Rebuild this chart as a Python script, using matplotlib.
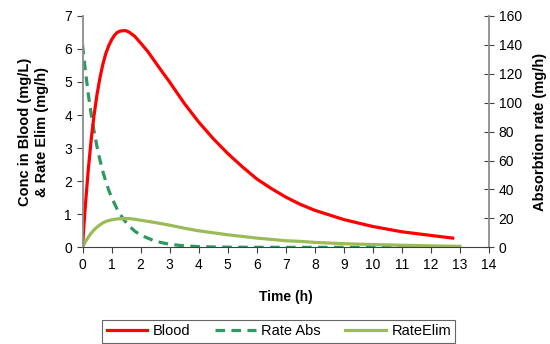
import matplotlib
matplotlib.use("Agg")
from matplotlib import pyplot as plt

plt.rcParams['font.family'] = ['Liberation Sans', 'DejaVu Sans']

# blood concentration (mg/L)
time_blood = [0, 0.05, 0.1, 0.2, 0.3, 0.4, 0.5, 0.6, 0.7, 0.8, 0.9, 1.0, 1.1, 1.2, 1.3, 1.4,
              1.5, 1.6, 1.8, 2.0, 2.25, 2.5, 2.75, 3, 3.5, 4, 4.5, 5, 5.5, 6, 6.5, 7, 7.5,
              8, 9, 10, 11, 12, 12.75]
blood = [0, 0.67, 1.28, 2.36, 3.26, 4.01, 4.62, 5.12, 5.53, 5.85, 6.09, 6.27, 6.41, 6.5, 6.54, 6.55,
         6.55, 6.51, 6.38, 6.18, 5.92, 5.61, 5.3, 5.0, 4.36, 3.79, 3.29, 2.84, 2.44, 2.07, 1.78, 1.52, 1.3,
         1.12, 0.84, 0.63, 0.47, 0.36, 0.28]

# rates (mg/h)
time_rate = [0, 0.1, 0.2, 0.3, 0.4, 0.5, 0.6, 0.7, 0.8, 0.9, 1.0, 1.2, 1.4, 1.6, 1.8, 2.0,
             2.5, 3, 3.5, 4, 4.5, 5, 5.5, 6, 6.5, 7, 7.5, 8, 9, 10, 11, 12, 13]
rate_abs = [140, 122, 105.7, 91.9, 80, 69.5, 60.4, 52.5, 45.7, 39.7, 34.5, 26.1, 19.7, 14.9, 11.2, 8.5,
            4.2, 2.1, 1.04, 0.52, 0.26, 0.13, 0.06, 0.03, 0, 0, 0, 0, 0, 0, 0, 0, 0]
rate_elim = [0, 0.17, 0.31, 0.43, 0.53, 0.61, 0.68, 0.74, 0.78, 0.81, 0.83, 0.86, 0.87, 0.87, 0.85, 0.82,
             0.75, 0.67, 0.58, 0.5, 0.44, 0.38, 0.33, 0.28, 0.24, 0.2, 0.18, 0.15, 0.11, 0.085, 0.063,
             0.045, 0.03]

fig = plt.figure(figsize=(5.5, 3.44), dpi=100)
ax = fig.add_axes([0.15, 0.281, 0.739, 0.673])
ax2 = ax.twinx()

l1, = ax.plot(time_blood, blood, color='#ff0000', lw=2.3, label='Blood')
l2, = ax2.plot(time_rate, rate_abs, color='#2e9960', lw=2.3, ls=(0, (3, 2)), label='Rate Abs')
l3, = ax.plot(time_rate, rate_elim, color='#9bbb59', lw=2.3, label='RateElim')
ax.set_zorder(ax2.get_zorder() + 1)
ax.patch.set_visible(False)

ax.set_xlim(0, 14)
ax.set_ylim(0, 7)
ax2.set_ylim(0, 160)
ax.set_xticks(range(0, 15))
ax.set_yticks(range(0, 8))
ax2.set_yticks(range(0, 161, 20))

for a in (ax, ax2):
    a.spines['top'].set_visible(False)
    a.tick_params(labelsize=10, length=4, color='#404040')
ax.spines['right'].set_visible(False)
ax.spines['left'].set_color('#8c8c8c')
ax.spines['left'].set_linewidth(1.3)
ax.spines['bottom'].set_color('#404040')
ax2.spines['left'].set_visible(False)
ax2.spines['bottom'].set_visible(False)
ax2.spines['right'].set_color('#8c8c8c')
ax2.spines['right'].set_linewidth(1.3)
ax2.tick_params(axis='y', direction='inout', length=7)

ax.set_xlabel('Time (h)', fontweight='bold', fontsize=10, labelpad=13)
ax.set_ylabel('Conc in Blood (mg/L)\n& Rate Elim (mg/h)', fontweight='bold', fontsize=10.5,
              labelpad=11, linespacing=1.3)
ax2.set_ylabel('Absorbtion rate (mg/h)', fontweight='bold', fontsize=10.5, labelpad=8)

leg = fig.legend(handles=[l1, l2, l3], loc='lower center', bbox_to_anchor=(0.507, 0.0), ncol=3,
                 fontsize=10.5, frameon=True, fancybox=False, edgecolor='#404040',
                 handlelength=2.8, handletextpad=0.35, columnspacing=1.7, borderpad=0.3,
                 borderaxespad=0.1)
leg.get_frame().set_linewidth(0.8)

plt.savefig('out.png', dpi=100)
